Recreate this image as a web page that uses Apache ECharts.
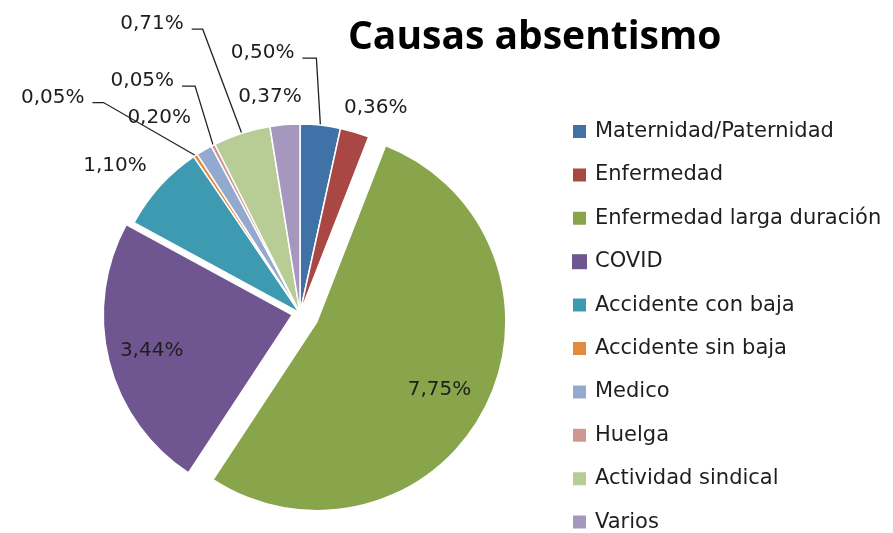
<!DOCTYPE html>
<html>
<head>
<meta charset="utf-8">
<script src="https://cdn.jsdelivr.net/npm/echarts@6/dist/echarts.min.js"></script>
<style>
html,body{margin:0;padding:0;background:#fff}
#chart{width:893px;height:533px}
</style>
</head>
<body>
<div id="chart"></div>
<script>
// causas de absentismo (% de horas)
const causas = ['Maternidad/Paternidad','Enfermedad','Enfermedad larga duración','COVID','Accidente con baja','Accidente sin baja','Medico','Huelga','Actividad sindical','Varios']
const porcentajes = [0.50,0.36,7.75,3.44,1.10,0.05,0.20,0.05,0.71,0.37]
const colores = ['#3f72a6','#a84744','#88a54b','#6f5690','#3e9ab0','#e38a3f','#93a9cf','#d09694','#b8cd95','#a697be']
const titulo = 'Causas absentismo'

const centro = [300,313]
const radio = 189
const fuente = 'DejaVu Sans'

// donde va cada etiqueta, medido desde el borde del sector
// codo/tramo = linea guia, mover = etiqueta suelta (sin linea)
// dentro = [padding izq/der, bajada] para correr el texto dentro del sector
const etiquetas = [
    {codo:[-4,-67], tramo:-14},
    {mover:[21,-24]},
    {dentro:[[0,0,0,72], 46]},
    {dentro:[[0,92,0,0], 24]},
    {mover:[-45,-20]},
    {codo:[-92,-53], tramo:-11},
    {mover:[-45,-32]},
    {codo:[-18,-59], tramo:-13},
    {codo:[-39,-104], tramo:-11},
    {mover:[-15,-28]}
]

function texto(p){
    return p.value.toFixed(2).replace('.',',')+'%'
}

function colocar(p){
    const e = etiquetas[p.dataIndex]
    if(!e || e.dentro || !p.labelLinePoints) return
    const a = p.labelLinePoints[0]
    if(e.mover){
        return {x:a[0]+e.mover[0], y:a[1]+e.mover[1], align:'center', verticalAlign:'middle'}
    }
    const codo = [a[0]+e.codo[0], a[1]+e.codo[1]]
    const fin = [codo[0]+e.tramo, codo[1]]
    return {x:fin[0]-8, y:fin[1]-5, align:'right', verticalAlign:'middle', labelLinePoints:[a,codo,fin]}
}

// serie 1: todo menos COVID, serie 2: solo COVID (va separado un poco)
function datos(soloCovid){
    return causas.map((n,i)=>{
        const esCovid = i==3
        const visible = soloCovid ? esCovid : !esCovid
        const item = {name:n, value:porcentajes[i]}
        if(!visible){
            item.itemStyle = {color:'rgba(0,0,0,0)', borderWidth:0}
            item.label = {show:false}
            item.labelLine = {show:false}
            return item
        }
        item.itemStyle = {color:colores[i]}
        const e = etiquetas[i]
        if(e.dentro){
            // linea vacia arriba para bajar el texto
            item.label = {position:'inside', padding:e.dentro[0], lineHeight:e.dentro[1], formatter:p=>'\n'+texto(p)}
            item.labelLine = {show:false}
        }else if(e.mover){
            item.labelLine = {show:true, lineStyle:{opacity:0}}
        }
        if(i==2 || esCovid) item.selected = true
        return item
    })
}

function serie(soloCovid, offset){
    return {
        type:'pie',
        center:centro,
        radius:radio,
        startAngle:90,
        clockwise:true,
        avoidLabelOverlap:false,
        selectedMode:'multiple',
        selectedOffset:offset,
        silent:true,
        itemStyle:{borderColor:'#fff', borderWidth:1.5},
        label:{show:true, position:'outside', formatter:texto, fontFamily:fuente, fontSize:20, color:'#1e1e1e'},
        labelLine:{show:true, length:10, length2:10, smooth:false, lineStyle:{color:'#222', width:1.3}},
        labelLayout:colocar,
        emphasis:{disabled:true},
        data:datos(soloCovid)
    }
}

var myChart = echarts.init(document.getElementById('chart'))
var option = {
    animation:false,
    backgroundColor:'#fff',
    title:{
        text:titulo,
        left:343,
        top:13,
        textStyle:{fontFamily:'Open Sans', fontWeight:'bold', fontSize:39, color:'#000'}
    },
    legend:{
        orient:'vertical',
        left:571,
        top:121,
        height:440,
        padding:0,
        icon:'rect',
        itemWidth:15,
        itemHeight:15,
        itemGap:22.4,
        selectedMode:false,
        textStyle:{fontFamily:fuente, fontSize:21, color:'#1e1e1e', padding:[0,0,0,3]},
        data:causas.map((n,i)=>({name:n, itemStyle:{color:colores[i]}}))
    },
    series:[serie(false,19), serie(true,8)]
}
myChart.setOption(option)
</script>
</body>
</html>
